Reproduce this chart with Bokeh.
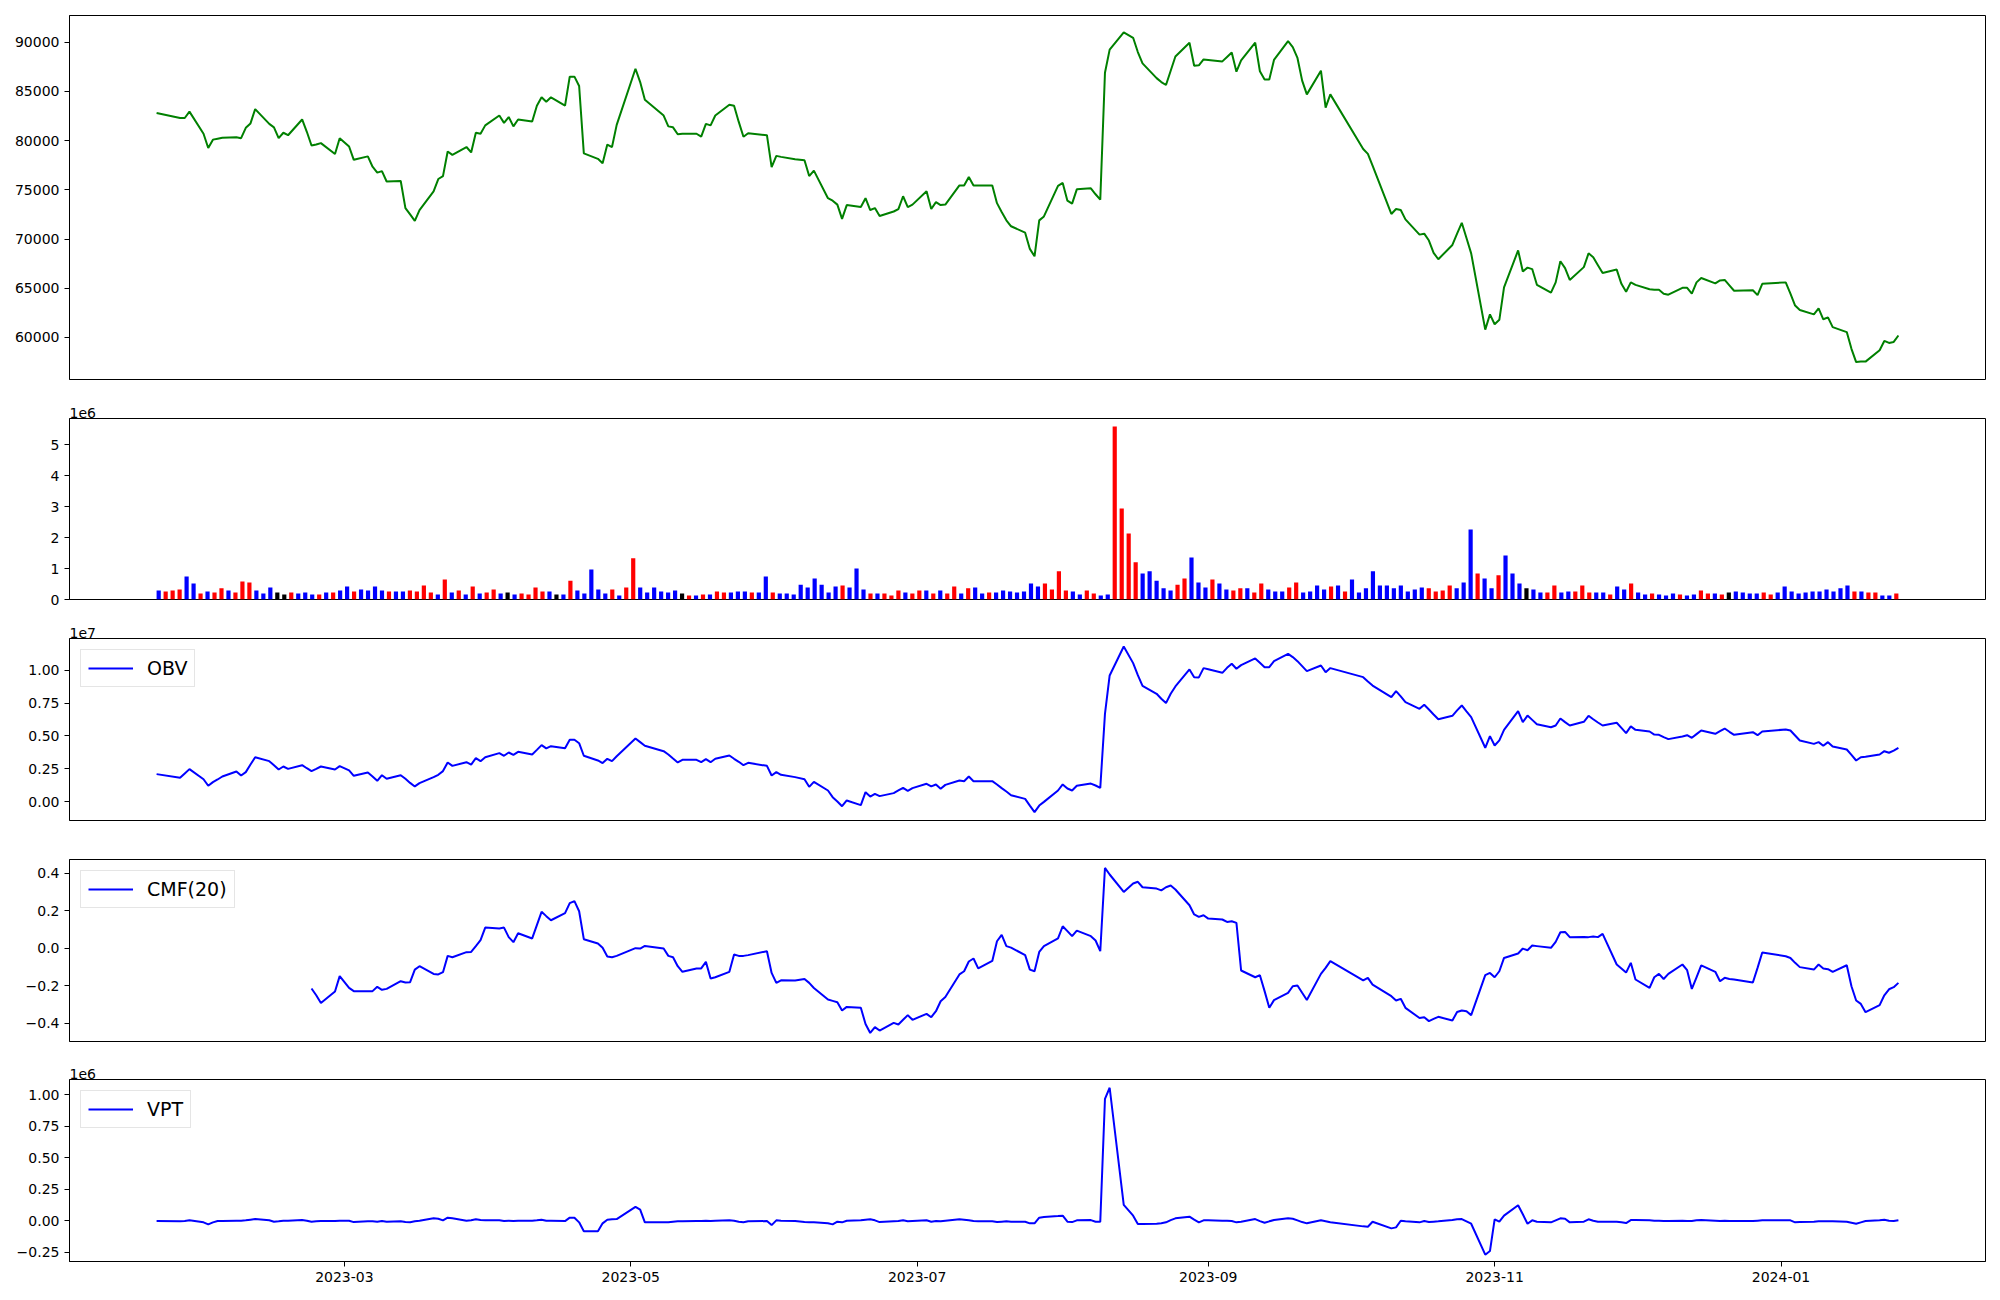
import numpy as np
import pandas as pd
from bokeh.plotting import figure
from bokeh.layouts import column
from bokeh.models import Range1d, FixedTicker, CustomJSTickFormatter, ColumnDataSource
from bokeh.embed import file_html
from bokeh.resources import INLINE

# ---------------- data ----------------
first_day = "2023-01-20"
last_day = "2024-01-26"
krx_holidays = ["2023-01-23", "2023-01-24", "2023-03-01", "2023-05-01", "2023-05-05",
                "2023-05-29", "2023-06-06", "2023-08-15", "2023-09-28", "2023-09-29",
                "2023-10-02", "2023-10-03", "2023-10-09", "2023-12-25", "2023-12-29",
                "2024-01-01"]

close_2023_01 = [82800, 82300, 82300, 82950, 80700, 79250]
close_2023_02 = [80100, 80200, 80300, 80350, 80250, 81300, 81750, 83200, 81700, 81350,
                 80250, 80800, 80550, 82150, 80900, 79500, 79600, 79750, 78650, 80250]
close_2023_03 = [79400, 78050, 78400, 77350, 76750, 76900, 75850, 75900, 73150, 72500, 71850,
                 72950, 74850, 76100, 76400, 78900, 78550, 79350, 78800, 80800, 80700, 81550]
close_2023_04 = [82550, 81800, 82400, 81450, 82150, 81950, 83550, 84400, 83950, 84400,
                 83550, 86500, 86500, 85550, 78700, 78150, 77700, 79600, 79350, 81600]
close_2023_05 = [87300, 85950, 84150, 82550, 81450, 81350, 80650, 80700, 80700, 80400,
                 81700, 81550, 82550, 83650, 83550, 81900, 80400, 80750, 80550, 77300]
close_2023_06 = [78450, 78350, 78100, 78000, 76400, 76950, 74150, 73900, 73500, 72050, 73450,
                 73250, 74150, 72950, 73150, 72350, 72800, 73050, 74350, 73250, 73500]
close_2023_07 = [74850, 73050, 73750, 73450, 73500, 75450, 75450, 76300, 75450, 75450, 75450,
                 73650, 72750, 71900, 71300, 70650, 69000, 68250, 71900, 72300, 75400]
close_2023_08 = [75700, 73900, 73600, 75050, 75150, 74550, 74000, 86900, 89250, 91000, 90450,
                 89000, 87850, 86350, 85950, 85650, 87100, 88550, 89950, 87600, 87650, 88250]
close_2023_09 = [88200, 88050, 88500, 88950, 87000, 88150, 89950, 87050, 86200, 86200,
                 88200, 90100, 89500, 88400, 86100, 84700, 87100, 83350, 84700]
close_2023_10 = [79150, 78650, 77450, 72550, 73050, 72950, 72000, 70450, 70550, 69850,
                 68600, 67950, 69400, 70550, 71650, 70100, 68550, 60800, 62350]
close_2023_11 = [61350, 61800, 65100, 68850, 66700, 67100, 66950, 65350, 64550, 65600, 67750,
                 67050, 65850, 67150, 68550, 68150, 67350, 66550, 66900, 65450, 64650, 65600]
close_2023_12 = [65350, 64900, 64850, 64850, 64450, 64350, 65050, 65050, 64450, 65600,
                 66050, 65500, 65800, 65850, 65300, 64750, 64800, 64300, 65450]
close_2024_01 = [65600, 64450, 63250, 62800, 62350, 62950, 61850, 62050, 61050, 60550,
                 58850, 57500, 57550, 57550, 58700, 59650, 59450, 59550, 60200]

# volume in millions of shares, one value per trading day
volume_m_a = [0.29, 0.26, 0.29, 0.32, 0.74, 0.52, 0.19, 0.26, 0.23, 0.36,
              0.29, 0.23, 0.58, 0.55, 0.29, 0.19, 0.39, 0.23, 0.16, 0.23,
              0.19, 0.23, 0.16, 0.16, 0.23, 0.23, 0.29, 0.42, 0.26, 0.32,
              0.29, 0.42, 0.29, 0.26, 0.26, 0.26, 0.29, 0.26, 0.45, 0.23,
              0.16, 0.65, 0.23, 0.29, 0.16, 0.42, 0.19, 0.23, 0.32, 0.19]
volume_m_b = [0.23, 0.16, 0.19, 0.16, 0.39, 0.26, 0.26, 0.16, 0.16, 0.61,
              0.29, 0.19, 0.97, 0.32, 0.19, 0.32, 0.13, 0.39, 1.33, 0.39,
              0.23, 0.39, 0.26, 0.23, 0.29, 0.19, 0.13, 0.13, 0.16, 0.16,
              0.26, 0.23, 0.23, 0.26, 0.26, 0.23, 0.23, 0.74, 0.23, 0.19,
              0.19, 0.16, 0.48, 0.39, 0.68, 0.48, 0.23, 0.42, 0.45, 0.39]
volume_m_c = [1.00, 0.32, 0.19, 0.19, 0.19, 0.13, 0.29, 0.23, 0.19, 0.29,
              0.29, 0.19, 0.29, 0.19, 0.42, 0.19, 0.36, 0.39, 0.19, 0.23,
              0.23, 0.29, 0.26, 0.23, 0.26, 0.52, 0.42, 0.52, 0.32, 0.91,
              0.29, 0.26, 0.16, 0.29, 0.19, 0.13, 0.16, 5.59, 2.94, 2.13,
              1.20, 0.84, 0.91, 0.61, 0.36, 0.29, 0.48, 0.68, 1.36, 0.55]
volume_m_d = [0.39, 0.65, 0.52, 0.32, 0.29, 0.36, 0.36, 0.23, 0.52, 0.32,
              0.26, 0.26, 0.39, 0.55, 0.23, 0.26, 0.45, 0.32, 0.42, 0.45,
              0.26, 0.65, 0.23, 0.36, 0.91, 0.45, 0.45, 0.36, 0.45, 0.26,
              0.32, 0.39, 0.36, 0.26, 0.29, 0.45, 0.36, 0.55, 2.26, 0.84,
              0.68, 0.36, 0.78, 1.42, 0.84, 0.52, 0.36, 0.32, 0.23, 0.23]
volume_m_e = [0.45, 0.23, 0.26, 0.26, 0.45, 0.23, 0.23, 0.23, 0.16, 0.42,
              0.32, 0.52, 0.23, 0.16, 0.19, 0.16, 0.13, 0.19, 0.16, 0.13,
              0.16, 0.29, 0.19, 0.19, 0.16, 0.23, 0.26, 0.23, 0.19, 0.19,
              0.23, 0.16, 0.23, 0.42, 0.26, 0.19, 0.23, 0.26, 0.26, 0.32,
              0.26, 0.36, 0.45, 0.26, 0.26, 0.23, 0.23, 0.13, 0.13, 0.19]

# candle direction per day: u = up, d = down, f = flat
bar_direction = ("duuudduduu" "duuudddffu" "dddududdud" "dddudduuuu" "dudududuud"
                 "fduuuudfdu" "ddddduduud" "dddddfudud" "uuddduddud" "ddddddddud"
                 "dduduuuduu" "duduududdu" "ddddddduuu" "udduudduuu" "uddddduudd"
                 "dudduuduud" "dduuddddud" "uddddddddd" "dduuuudddu" "ddudddfddu"
                 "udduuuddud" "duddudddud" "duudufdddd" "uudddddddd" "ddduduuddu")

# OBV in units of 1e7
obv_e7 = [0.209, 0.181, 0.214, 0.247, 0.170, 0.120,
          0.148, 0.168, 0.191, 0.229, 0.198, 0.224, 0.282, 0.338, 0.308, 0.277,
          0.244, 0.267, 0.249, 0.277, 0.254, 0.232, 0.249, 0.267, 0.244, 0.270,
          0.237, 0.196, 0.221, 0.191, 0.158, 0.201, 0.173, 0.201, 0.173, 0.142, 0.115,
          0.140, 0.186, 0.204, 0.232, 0.298, 0.272, 0.300, 0.282, 0.331, 0.308, 0.338,
          0.369, 0.349, 0.374, 0.356, 0.379, 0.359, 0.394, 0.430, 0.405, 0.422,
          0.407, 0.471, 0.471, 0.445, 0.349, 0.313, 0.293, 0.326, 0.308, 0.345,
          0.481, 0.453, 0.425, 0.384, 0.359, 0.328, 0.298, 0.318, 0.318, 0.300,
          0.323, 0.300, 0.326, 0.351, 0.326, 0.303, 0.277, 0.295, 0.272, 0.198,
          0.224, 0.204, 0.186, 0.170, 0.112, 0.150, 0.084, 0.033, 0.000, -0.036, 0.008,
          -0.028, 0.071, 0.038, 0.059, 0.041, 0.064, 0.084, 0.104, 0.081, 0.102,
          0.135, 0.115, 0.130, 0.097, 0.127, 0.160, 0.155, 0.191, 0.155, 0.155, 0.155,
          0.130, 0.102, 0.076, 0.048, 0.020, -0.031, -0.081, -0.031, -0.003, 0.084,
          0.130, 0.099, 0.084, 0.120, 0.137, 0.122, 0.104, 0.669, 0.962, 1.183, 1.056,
          0.964, 0.883, 0.822, 0.784, 0.751, 0.822, 0.878, 1.008, 0.949, 0.947, 1.018,
          1.010, 0.982, 1.020, 1.051, 1.013, 1.041, 1.092, 1.059, 1.025, 1.025,
          1.071, 1.127, 1.102, 1.071, 1.033, 0.995, 1.038, 0.987, 1.018,
          0.949, 0.916, 0.885, 0.796, 0.842, 0.802, 0.758, 0.707, 0.738, 0.702,
          0.664, 0.628, 0.654, 0.695, 0.733, 0.687, 0.644, 0.410, 0.499,
          0.427, 0.466, 0.547, 0.690, 0.606, 0.656, 0.623, 0.590, 0.567, 0.580, 0.634,
          0.606, 0.580, 0.608, 0.654, 0.628, 0.603, 0.580, 0.601, 0.562, 0.522, 0.573,
          0.547, 0.534, 0.511, 0.509, 0.491, 0.476, 0.496, 0.506, 0.486, 0.514,
          0.542, 0.517, 0.537, 0.557, 0.532, 0.509, 0.529, 0.506, 0.534,
          0.550, 0.542, 0.504, 0.466, 0.440, 0.453, 0.425, 0.453, 0.420, 0.397,
          0.356, 0.313, 0.338, 0.341, 0.359, 0.384, 0.372, 0.389, 0.410]

# CMF(20); the first 21 days have no value
cmf_20 = [None] * 21 + [
    -0.215, -0.251, -0.292, -0.231, -0.149,
    -0.212, -0.229, -0.229, -0.229, -0.206, -0.222, -0.217, -0.176, -0.183, -0.181, -0.114,
    -0.096, -0.137, -0.140, -0.128, -0.041, -0.048, -0.021, -0.020, 0.011, 0.043, 0.110,
    0.105, 0.110, 0.059, 0.032, 0.080, 0.052, 0.123, 0.194, 0.171, 0.149,
    0.187, 0.240, 0.251, 0.197, 0.048, 0.025, 0.002, -0.044, -0.048, -0.041,
    0.000, -0.002, 0.012, -0.002, -0.041, -0.048, -0.096, -0.126, -0.108, -0.108,
    -0.073, -0.162, -0.155, -0.126, -0.034, -0.041, -0.041, -0.037, -0.016, -0.132,
    -0.185, -0.171, -0.172, -0.164, -0.185, -0.212, -0.274, -0.281, -0.288, -0.332, -0.313,
    -0.318, -0.404, -0.452, -0.421, -0.439, -0.398, -0.407, -0.382, -0.357, -0.382,
    -0.350, -0.368, -0.336, -0.283, -0.260, -0.140, -0.123, -0.071, -0.055, -0.108, -0.068,
    0.037, 0.071, 0.011, 0.003, -0.037, -0.114, -0.123, -0.020, 0.011, 0.052,
    0.117, 0.091, 0.064, 0.094, 0.064, 0.041, -0.016, 0.428, 0.393, 0.300, 0.345,
    0.354, 0.325, 0.318, 0.308, 0.325, 0.334, 0.313, 0.229, 0.180, 0.167, 0.176,
    0.158, 0.153, 0.140, 0.144, 0.135, -0.119, -0.155, -0.144, -0.229, -0.318,
    -0.277, -0.238, -0.203, -0.199, -0.238, -0.276, -0.137, -0.105, -0.069,
    -0.172, -0.158, -0.194, -0.256, -0.279, -0.270, -0.318, -0.372, -0.368, -0.389,
    -0.377, -0.366, -0.386, -0.340, -0.332, -0.336, -0.357, -0.144, -0.132,
    -0.155, -0.123, -0.052, -0.028, -0.002, -0.011, 0.014, 0.011, 0.002, 0.034, 0.085,
    0.087, 0.059, 0.060, 0.059, 0.062, 0.059, 0.076, -0.087, -0.108, -0.130, -0.078,
    -0.167, -0.212, -0.155, -0.137, -0.164, -0.137, -0.087, -0.117, -0.217, -0.155,
    -0.092, -0.126, -0.176, -0.158, -0.164, -0.167, -0.183, -0.105, -0.023,
    -0.043, -0.052, -0.078, -0.101, -0.114, -0.087, -0.108, -0.112, -0.126, -0.091,
    -0.203, -0.279, -0.297, -0.341, -0.304, -0.251, -0.219, -0.208, -0.185]

# VPT in units of 1e6
vpt_e6 = [-0.003, -0.005, -0.003, 0.003, -0.013, -0.029,
          -0.013, -0.003, -0.003, 0.0, 0.0, 0.003, 0.008, 0.013, 0.003, -0.008,
          -0.005, 0.0, 0.0, 0.005, 0.0, -0.008, -0.005, -0.003, -0.003, 0.0,
          0.0, -0.011, -0.005, -0.005, -0.008, -0.003, -0.008, -0.005, -0.011, -0.013, -0.005,
          0.0, 0.019, 0.016, 0.003, 0.024, 0.019, 0.0, 0.003, 0.011, 0.005, 0.003,
          0.003, -0.003, 0.0, -0.003, 0.0, 0.0, 0.003, 0.008, 0.0, 0.0,
          -0.003, 0.024, 0.024, -0.013, -0.083, -0.083, -0.021, 0.008, 0.011, 0.013,
          0.110, 0.088, -0.013, -0.013, -0.013, -0.008, -0.005, -0.005, -0.003, -0.003,
          0.0, -0.003, 0.0, 0.003, 0.0, -0.008, -0.013, -0.005, -0.003, -0.035,
          0.003, 0.0, -0.003, -0.011, -0.013, -0.013, -0.021, -0.029, -0.008, -0.013, 0.0,
          0.003, 0.008, 0.011, 0.003, -0.011, -0.005, -0.003, 0.003, -0.005, -0.003,
          0.003, -0.008, -0.003, -0.005, 0.0, 0.011, 0.008, 0.003, -0.003, -0.005, -0.005,
          -0.011, -0.008, -0.005, -0.008, -0.008, -0.021, -0.021, 0.024, 0.029, 0.037,
          0.040, -0.008, -0.011, 0.003, 0.005, -0.008, -0.008, 0.968, 1.056, 0.126, 0.040,
          -0.027, -0.027, -0.024, -0.021, -0.013, 0.005, 0.019, 0.032, 0.008, -0.013, 0.003,
          0.003, 0.0, 0.0, -0.003, -0.013, -0.008, 0.013, -0.003, -0.016, -0.005,
          0.005, 0.019, 0.016, 0.003, -0.011, -0.021, 0.003, -0.005, -0.013,
          -0.045, -0.048, -0.008, -0.061, -0.053, 0.0, -0.005, -0.013, -0.003, -0.011,
          -0.008, -0.005, 0.005, 0.011, 0.013, -0.005, -0.024, -0.270, -0.241,
          0.011, -0.008, 0.040, 0.123, 0.051, -0.024, 0.003, -0.008, -0.013, 0.003, 0.019,
          0.016, -0.013, -0.008, 0.011, 0.0, -0.008, -0.008, -0.008, -0.013, -0.019, 0.005,
          0.005, 0.003, 0.0, 0.0, -0.003, -0.003, 0.0, -0.003, -0.003, 0.003,
          0.005, 0.0, -0.003, 0.0, -0.003, -0.003, -0.003, 0.0, 0.003,
          0.003, 0.003, -0.013, -0.011, -0.008, -0.005, -0.005, -0.005, -0.005, -0.008,
          -0.016, -0.024, -0.013, -0.003, 0.003, 0.008, 0.0, -0.003, 0.003]

price_ticks = [60000, 65000, 70000, 75000, 80000, 85000, 90000]
price_tick_labels = ["60000", "65000", "70000", "75000", "80000", "85000", "90000"]
volume_ticks = [0, 1, 2, 3, 4, 5]
volume_tick_labels = ["0", "1", "2", "3", "4", "5"]
obv_ticks = [0.0, 0.25, 0.5, 0.75, 1.0]
obv_tick_labels = ["0.00", "0.25", "0.50", "0.75", "1.00"]
cmf_ticks = [-0.4, -0.2, 0.0, 0.2, 0.4]
cmf_tick_labels = ["\u22120.4", "\u22120.2", "0.0", "0.2", "0.4"]
vpt_ticks = [-0.25, 0.0, 0.25, 0.5, 0.75, 1.0]
vpt_tick_labels = ["\u22120.25", "0.00", "0.25", "0.50", "0.75", "1.00"]
date_ticks = ["2023-03-01", "2023-05-01", "2023-07-01", "2023-09-01", "2023-11-01", "2024-01-01"]
date_tick_labels = ["2023-03", "2023-05", "2023-07", "2023-09", "2023-11", "2024-01"]

# ---------------- build ----------------
dates = pd.bdate_range(first_day, last_day, freq="C", holidays=krx_holidays)
close = (close_2023_01 + close_2023_02 + close_2023_03 + close_2023_04 + close_2023_05 +
         close_2023_06 + close_2023_07 + close_2023_08 + close_2023_09 + close_2023_10 +
         close_2023_11 + close_2023_12 + close_2024_01)
volume_m = volume_m_a + volume_m_b + volume_m_c + volume_m_d + volume_m_e
n = len(dates)
color_of = {"u": "#ff0000", "d": "#0000ff", "f": "#000000"}

line_src = ColumnDataSource(dict(
    date=dates, close=close, obv=obv_e7,
    cmf=[np.nan if v is None else v for v in cmf_20], vpt=vpt_e6))
bar_src = ColumnDataSource(dict(
    idx=list(range(n)), vol=volume_m, color=[color_of[c] for c in bar_direction]))

def ms(ts):
    return pd.Timestamp(ts).value / 1e6

pad = (dates[-1] - dates[0]) * 0.05
x_start, x_end = ms(dates[0] - pad), ms(dates[-1] + pad)
bar_pad = (n - 1 + 0.6) * 0.05
FONT = "DejaVu Sans"
W = 1992

def fmt(tick_values, tick_texts):
    return CustomJSTickFormatter(args=dict(tv=tick_values, tl=tick_texts), code="""
        for (let i = 0; i < tv.length; i++) {
            if (Math.abs(tv[i] - tick) <= 1e-6 * Math.max(1, Math.abs(tv[i]))) return tl[i];
        }
        return "";""")

def make_fig(height, top, bottom, y_range, x_range, xtype, tick_values, tick_texts,
             show_x=False, offset_text=None):
    p = figure(width=W, height=height, x_axis_type=xtype,
               x_axis_location="below" if show_x else None,
               x_range=x_range, y_range=y_range, output_backend="svg",
               toolbar_location=None, title=offset_text,
               min_border_left=69, min_border_right=7,
               min_border_top=top, min_border_bottom=bottom)
    if offset_text:
        p.title.align = "left"
        p.title.offset = 0
        p.title.standoff = 1
        p.title.text_font = FONT
        p.title.text_font_size = "14px"
        p.title.text_font_style = "normal"
        p.title.text_color = "black"
    p.grid.visible = False
    p.outline_line_color = "black"
    p.outline_line_width = 1
    p.background_fill_color = "white"
    p.border_fill_color = "white"
    for ax in p.axis:
        ax.axis_line_color = "black"
        ax.major_tick_line_color = "black"
        ax.major_tick_out = 5
        ax.major_tick_in = 0
        ax.minor_tick_out = 0
        ax.minor_tick_in = 0
        ax.major_label_text_font = FONT
        ax.major_label_text_font_size = "14px"
        ax.major_label_text_color = "black"
        ax.major_label_standoff = 5
    p.yaxis.ticker = FixedTicker(ticks=tick_values)
    p.yaxis.formatter = fmt(tick_values, tick_texts)
    return p

def style_legend(p):
    lg = p.legend[0]
    lg.location = "top_left"
    lg.label_text_font = FONT
    lg.label_text_font_size = "19px"
    lg.label_text_color = "black"
    lg.label_height = 22
    lg.glyph_height = 22
    lg.glyph_width = 45
    lg.label_standoff = 14
    lg.padding = 7
    lg.margin = 11
    lg.spacing = 0
    lg.border_line_color = "#cccccc"
    lg.border_line_width = 1
    lg.background_fill_alpha = 0.8

# price
p1 = make_fig(398, 15, 19, Range1d(55733, 92712), Range1d(x_start, x_end), "datetime",
              price_ticks, price_tick_labels)
p1.line("date", "close", source=line_src, line_color="#008000", line_width=2)

# volume (bars by day index)
p2 = make_fig(220, 20, 19, Range1d(0, 5.85), Range1d(-0.3 - bar_pad, n - 1 + 0.3 + bar_pad),
              "linear", volume_ticks, volume_tick_labels, offset_text="1e6")
p2.vbar(x="idx", top="vol", width=0.6, fill_color="color", line_color=None, source=bar_src)

# OBV
p3 = make_fig(221, 20, 19, Range1d(-0.145, 1.244), Range1d(x_start, x_end), "datetime",
              obv_ticks, obv_tick_labels, offset_text="1e7")
p3.line("date", "obv", source=line_src, line_color="#0000ff", line_width=2, legend_label="OBV")
style_legend(p3)

# CMF
p4 = make_fig(221, 20, 19, Range1d(-0.4976, 0.473), Range1d(x_start, x_end), "datetime",
              cmf_ticks, cmf_tick_labels)
p4.line("date", "cmf", source=line_src, line_color="#0000ff", line_width=2, legend_label="CMF(20)")
style_legend(p4)

# VPT
p5 = make_fig(232, 19, 31, Range1d(-0.324, 1.1215), Range1d(x_start, x_end), "datetime",
              vpt_ticks, vpt_tick_labels, show_x=True, offset_text="1e6")
p5.line("date", "vpt", source=line_src, line_color="#0000ff", line_width=2, legend_label="VPT")
style_legend(p5)
date_tick_ms = [ms(d) for d in date_ticks]
p5.xaxis.ticker = FixedTicker(ticks=date_tick_ms)
p5.xaxis.formatter = fmt(date_tick_ms, date_tick_labels)

layout = column(p1, p2, p3, p4, p5, spacing=0)
open("out.html", "w").write(file_html(layout, INLINE))
